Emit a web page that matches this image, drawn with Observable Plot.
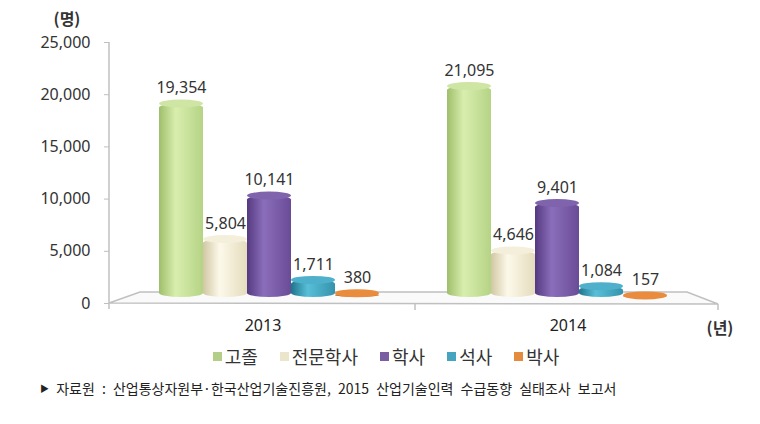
<!DOCTYPE html>
<html>
<head>
<meta charset="utf-8">
<script src="https://cdn.jsdelivr.net/npm/d3@7"></script>
<script src="https://cdn.jsdelivr.net/npm/@observablehq/plot@0.6"></script>
<style>
  body { margin: 0; background: #fff; }
  #wrap { position: relative; width: 760px; height: 424px; overflow: hidden; background: #fff;
          font-family: "Noto Sans CJK KR", "Noto Sans", sans-serif; color: #333; }
  .layer { position: absolute; left: 0; top: 0; }
  .unit { position: absolute; transform: translate(-50%, -50%); font-weight: bold; font-size: 16px; color: #333; white-space: nowrap; }
  #legend { position: absolute; left: 0; width: 772px; top: 344px; height: 24px; display: flex; justify-content: center; align-items: center; gap: 22px; font-size: 18px; color: #333; }
  .item { display: flex; align-items: center; gap: 3px; }
  .sw { width: 9px; height: 9px; display: inline-block; }
  #caption { position: absolute; left: 40px; top: 378px; font-size: 14px; line-height: 20px; color: #222; white-space: nowrap; word-spacing: 4px; }
  #caption .tri { font-size: 9px; vertical-align: 2px; }
</style>
</head>
<body>
<svg width="0" height="0" style="position:absolute"><defs id="defs"></defs></svg>
<div id="wrap">
  <div class="unit" style="left:67px;top:18px;">(명)</div>
  <div class="unit" style="left:720px;top:327px;">(년)</div>
  <div id="legend"></div>
  <div id="caption"><span class="tri">▶</span> 자료원 : 산업통상자원부·한국산업기술진흥원, 2015 산업기술인력 수급동향 실태조사 보고서</div>
</div>
<script>
// ---- data ----
const years = ["2013", "2014"];
const categories = ["고졸", "전문학사", "학사", "석사", "박사"];
const values2013 = [19354, 5804, 10141, 1711, 380];
const values2014 = [21095, 4646, 9401, 1084, 157];
const yTicks = [0, 5000, 10000, 15000, 20000, 25000];

// ---- styles ----
const gradStops = [
  ["#9fbf6b", "#d8eeae", "#b5d385"],
  ["#d0c7a3", "#fdf9ea", "#e4dcbd"],
  ["#553980", "#8b6ebb", "#694b96"],
  ["#1f748c", "#58bfd8", "#3592ac"],
  ["#b65810", "#f79c52", "#d47629"]
];
const capColors = ["#cfe5a3", "#f4efda", "#7f63ad", "#4eb0ca", "#ea8c3e"];
const swatchColors = ["#b3cf87", "#ebe5cb", "#7a5ea3", "#45a5bf", "#e58b3d"];

const valuesByYear = [values2013, values2014];
const data = years.flatMap((yr, i) =>
  categories.map((c, j) => ({year: yr, cat: c, idx: j, value: valuesByYear[i][j]})));
const fmt = d3.format(",");

// gradients
const defs = d3.select("#defs");
gradStops.forEach((s, j) => {
  const g = defs.append("linearGradient").attr("id", "grad" + j)
    .attr("x1", 0).attr("x2", 1).attr("y1", 0).attr("y2", 0);
  g.append("stop").attr("offset", "0%").attr("stop-color", s[0]);
  g.append("stop").attr("offset", "38%").attr("stop-color", s[1]);
  g.append("stop").attr("offset", "100%").attr("stop-color", s[2]);
});

const W = 760, H = 340;
const wrap = document.getElementById("wrap");

// ---- layer A: axes and floor ----
const axisPlot = Plot.plot({
  width: W, height: H,
  marginLeft: 109, marginRight: 40, marginTop: 42, marginBottom: H - 303,
  x: {type: "band", domain: years, padding: 0},
  y: {domain: [0, 25000]},
  style: {background: "transparent", fontFamily: "'Noto Sans', sans-serif", color: "#333"},
  marks: [
    Plot.axisY(yTicks, {tickSize: 5, tickPadding: 14, tickFormat: fmt, stroke: "#bfbfbf", fill: "#333", fontSize: 16}),
    Plot.axisX(years, {tickSize: 0, tickPadding: 16, fill: "#222", fontSize: 16})
  ]
});
axisPlot.classList.add("layer");
wrap.appendChild(axisPlot);

{
  const ys = axisPlot.scale("y"), xs = axisPlot.scale("x");
  const y0 = ys.apply(0), yTop = ys.apply(25000);
  const xL = xs.range[0], xR = xs.range[1];
  const g = d3.select(axisPlot).append("g").attr("stroke", "#c0c0c0").attr("fill", "none").attr("stroke-width", 1.5);
  // axis line
  g.append("line").attr("x1", xL).attr("x2", xL).attr("y1", yTop).attr("y2", y0 + 6);
  // floor
  g.append("path").attr("d",
    `M${xL},${y0}L${xL + 31},${y0 - 11}L${xR - 33},${y0 - 11}L${xR - 2},${y0 + 1}Z`)
    .attr("fill", "#fafafa");
  // category separator ticks
  [xs.apply(years[1]), xR - 2].forEach(x => {
    g.append("line").attr("x1", x).attr("x2", x).attr("y1", y0 + 1).attr("y2", y0 + 7);
  });
}

// ---- layer B: bars ----
const barPlot = Plot.plot({
  width: W, height: H,
  marginLeft: 125, marginRight: 59, marginTop: 47, marginBottom: H - 297,
  fx: {domain: years, padding: 0, axis: null, label: null},
  x: {domain: categories, paddingInner: 0, paddingOuter: 0.743, axis: null},
  y: {domain: [0, 25000], axis: null},
  style: {background: "transparent", fontFamily: "'Noto Sans', sans-serif"},
  marks: [
    ...categories.map((c, j) => Plot.barY(data.filter(d => d.cat === c), {
      fx: "year", x: "cat", y: "value", fill: `url(#grad${j})`, rx: 30, ry: 4
    })),
    Plot.barY(data, {
      fx: "year", x: "cat", y1: "value", y2: "value", insetTop: -4, insetBottom: -4,
      fill: d => capColors[d.idx], rx: 30, ry: 4
    }),
    Plot.text(data, {
      fx: "year", x: "cat", y: "value", text: d => fmt(d.value), dy: -16,
      fontSize: 16, fill: "#333"
    })
  ]
});
barPlot.classList.add("layer");
wrap.appendChild(barPlot);

// ---- legend ----
const legend = d3.select("#legend");
categories.forEach((c, j) => {
  const it = legend.append("div").attr("class", "item");
  it.append("span").attr("class", "sw").style("background", swatchColors[j]);
  it.append("span").text(c);
});
</script>
</body>
</html>
